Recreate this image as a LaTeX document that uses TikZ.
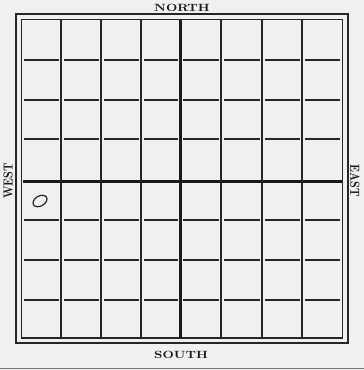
\documentclass[tikz,border=0pt]{standalone}
\begin{document}
\begin{tikzpicture}[x=1pt,y=-1pt,
  gridline/.style={line width=1.3pt,black!85},
  heavyline/.style={line width=3pt,black!90},
  frameline/.style={line width=1.8pt,black!85},
  compass/.style={font=\bfseries\fontsize{10.5}{11}\selectfont,inner sep=0pt,text=black!90,xscale=1.25}]
\fill[black!6] (0,0) rectangle (364,370);
\useasboundingbox (0,0) rectangle (364,370);
\draw[black!55,line width=1.2pt] (0,368.5) -- (364,368.5);
% frame
\draw[frameline] (16,14) rectangle (348,343);
\draw[frameline] (21.5,19.5) rectangle (342.5,338);
% verticals
\foreach \x in {61,101,141,221,262,302} \draw[gridline] (\x,20) -- (\x,338);
\draw[heavyline] (180.5,20) -- (180.5,338);
% horizontals, broken at the verticals
\foreach \y in {60,100,139,220,260,300}{
  \foreach \a/\b in {21.5/61,61/101,101/141,141/180.5,180.5/221,221/262,262/302,302/342.5}
    \draw[gridline] (\a+2.5,\y) -- (\b-2.5,\y);
}
\foreach \a/\b in {21.5/61,61/101,101/141,141/180.5,180.5/221,221/262,262/302,302/342.5}
  \draw[heavyline] (\a+1,181) -- (\b-1,181);
% mark
\draw[line width=1.2pt,black!85,rotate around={30:(40,201)}] (40,201) ellipse (7.5pt and 5pt);
% labels
\node[compass] (north) at (182,7.5) {NORTH};
\node[compass] (south) at (181,355) {SOUTH};
\node[compass,rotate=90] (west) at (8,181) {WEST};
\node[compass,rotate=-90] (east) at (355,181) {EAST};
\end{tikzpicture}
\end{document}
